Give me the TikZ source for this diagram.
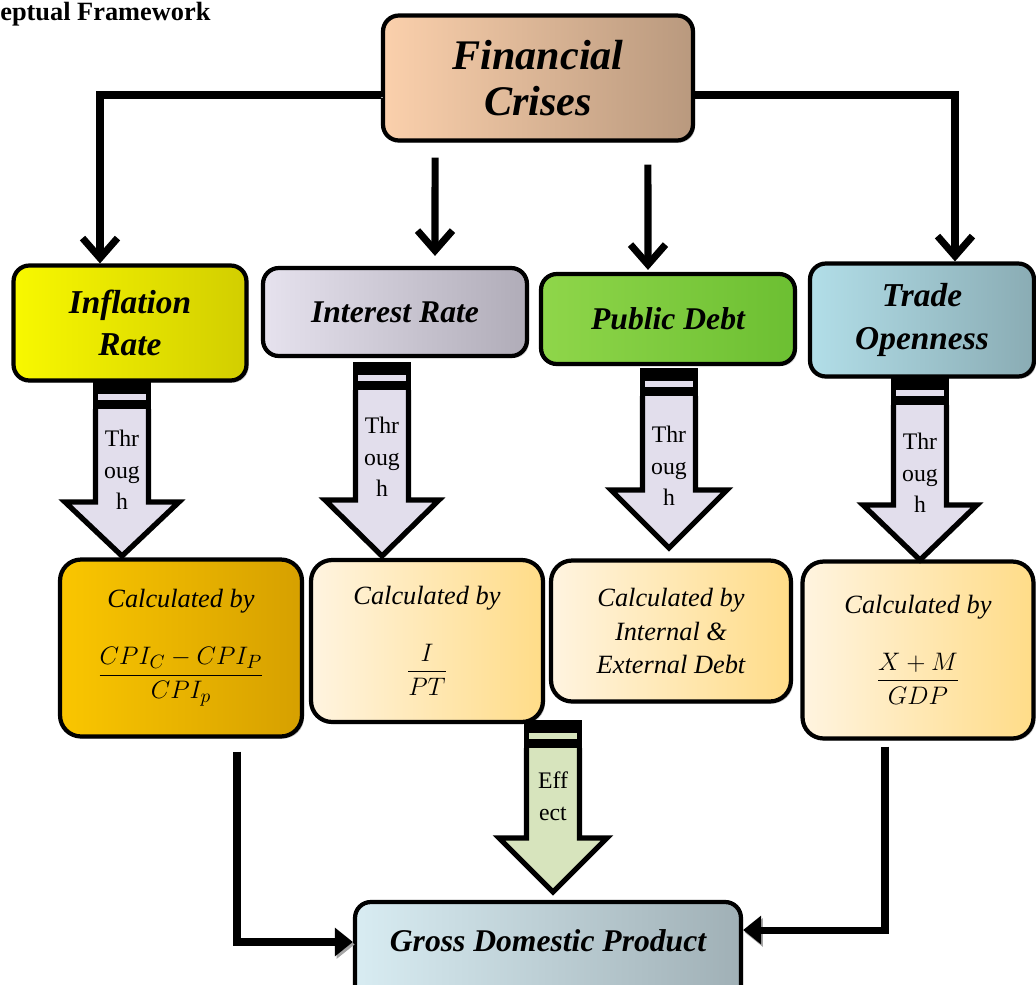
\documentclass[tikz,border=0pt]{standalone}
\usepackage{amsmath}
\usepackage{fontspec}
\setmainfont{Liberation Serif}
\usetikzlibrary{arrows.meta, positioning, shadows}

\definecolor{finL}{HTML}{FBD0AC} \definecolor{finR}{HTML}{B9997E}
\definecolor{infL}{HTML}{F8F800} \definecolor{infR}{HTML}{D2CE00}
\definecolor{intL}{HTML}{E6E2EE} \definecolor{intR}{HTML}{B0ACB8}
\definecolor{pubL}{HTML}{8FD64A} \definecolor{pubR}{HTML}{6CBF32}
\definecolor{trdL}{HTML}{B2DEE8} \definecolor{trdR}{HTML}{8AACB4}
\definecolor{cinL}{HTML}{FAC600} \definecolor{cinR}{HTML}{D6A000}
\definecolor{creL}{HTML}{FFF4E0} \definecolor{creR}{HTML}{FFDC88}
\definecolor{gdpL}{HTML}{D8ECF2} \definecolor{gdpR}{HTML}{A0B0B6}
\definecolor{lav}{HTML}{E2DEEC} \definecolor{effgreen}{HTML}{D7E4BD}

% striped block arrow: x, top, head start, tip, head half width, fill, text y, text
\newcommand{\thruarrow}[8]{%
  \fill (#1-29,#2) rectangle (#1+29,#2+29);
  \fill[#6] (#1-24,#2+13) rectangle (#1+24,#2+19);
  \draw[blockline, fill=#6] (#1-26.5,#2+28) -- (#1-26.5,#3) -- (#1-#5,#3) -- (#1,#4) -- (#1+#5,#3) -- (#1+26.5,#3) -- (#1+26.5,#2+28);
  \node[thru] at (#1,#7) {#8};
}

\begin{document}
\begin{tikzpicture}[x=0.02cm, y=-0.02cm,
  box/.style={draw, line width=2.4pt, rounded corners=9pt, drop shadow={shadow xshift=1.2pt, shadow yshift=-1.2pt, opacity=0.45}, align=center, inner sep=2pt, font=\fontsize{19}{24}\selectfont\bfseries\itshape},
  calcbox/.style={draw, line width=2.4pt, rounded corners=12pt, drop shadow={shadow xshift=1.2pt, shadow yshift=-1.2pt, opacity=0.45}, align=center, inner sep=2pt, font=\fontsize{15}{19}\selectfont\itshape},
  conn/.style={line width=4pt, preaction={draw=black!35, transform canvas={shift={(1pt,-1.4pt)}}}},
  barb/.style={-{Straight Barb[length=4mm, width=7mm]}},
  tri/.style={-{Triangle[length=3.6mm, width=5.5mm]}},
  blockline/.style={line width=3pt, line join=miter},
  thru/.style={align=center, inner sep=0pt, font=\fontsize{13.5}{18}\selectfont}]
\clip (0,0) rectangle (1036,985);

\node[anchor=base west, inner sep=0pt, font=\fontsize{15}{16}\selectfont\bfseries] (title) at (0,20) {eptual Framework};

% boxes
\node[box, left color=finL, right color=finR, minimum width=6.2cm, minimum height=2.5cm, font=\fontsize{24}{26}\selectfont\bfseries\itshape] (fincrisis) at (538,78) {Financial\\Crises};
\node[box, left color=infL, right color=infR, minimum width=4.66cm, minimum height=2.3cm] (inflation) at (130,323) {Inflation\\Rate};
\node[box, left color=intL, right color=intR, minimum width=5.28cm, minimum height=1.76cm, font=\fontsize{18}{22}\selectfont\bfseries\itshape] (interest) at (395,312) {Interest Rate};
\node[box, left color=pubL, right color=pubR, minimum width=5.08cm, minimum height=1.8cm, font=\fontsize{18}{22}\selectfont\bfseries\itshape] (pubdebt) at (668,319) {Public Debt};
\node[box, left color=trdL, right color=trdR, minimum width=4.48cm, minimum height=2.26cm] (trade) at (922,320) {Trade\\Openness};

\node[calcbox, left color=cinL, right color=cinR, minimum width=4.84cm, minimum height=3.54cm] (calcinf) at (181,648) {Calculated by\\[18pt] $\dfrac{CPI_C - CPI_P}{CPI_p}$};
\node[calcbox, left color=creL, right color=creR, minimum width=4.64cm, minimum height=3.24cm] (calcint) at (427,641) {Calculated by\\[18pt] $\dfrac{I}{PT}$};
\node[calcbox, left color=creL, right color=creR, minimum width=4.8cm, minimum height=2.82cm] (calcdebt) at (671,631) {Calculated by\\Internal \&\\External Debt};
\node[calcbox, left color=creL, right color=creR, minimum width=4.62cm, minimum height=3.54cm] (calctrade) at (918,650) {Calculated by\\[18pt] $\dfrac{X + M}{GDP}$};

\node[box, left color=gdpL, right color=gdpR, minimum width=7.72cm, minimum height=1.96cm, text height=0.5cm, text depth=0.5cm, font=\fontsize{18}{22}\selectfont\bfseries\itshape] (gdp) at (548,951) {Gross Domestic Product};

% connectors
\draw[conn, barb] ([yshift=-3.4mm]fincrisis.west) -| ([xshift=-6mm]inflation.north);
\draw[conn, barb] ([yshift=-3.4mm]fincrisis.east) -| ([xshift=6.6mm]trade.north);
\draw[conn, barb] ([xshift=-20.6mm, yshift=-3mm]fincrisis.south) -- ([xshift=8mm, yshift=2mm]interest.north);
\draw[conn, barb] ([xshift=22mm, yshift=-4.4mm]fincrisis.south) -- ([xshift=-4mm, yshift=0.4mm]pubdebt.north);
\draw[conn, tri] ([xshift=11.2mm, yshift=-2.6mm]calcinf.south) |- ([yshift=1.8mm]gdp.west);
\draw[conn, tri] ([xshift=-6.6mm, yshift=-1.2mm]calctrade.south) |- ([yshift=4.2mm]gdp.east);

% block arrows
\thruarrow{122}{381}{502}{556}{57}{lav}{470}{Thr\\oug\\h}
\thruarrow{382}{362}{500}{556}{57}{lav}{457}{Thr\\oug\\h}
\thruarrow{669}{368}{490}{548}{58}{lav}{466}{Thr\\oug\\h}
\thruarrow{920}{377}{505}{560}{57}{lav}{473}{Thr\\oug\\h}
\thruarrow{553}{720}{838}{892}{54}{effgreen}{796}{Eff\\ect}
\end{tikzpicture}
\end{document}
